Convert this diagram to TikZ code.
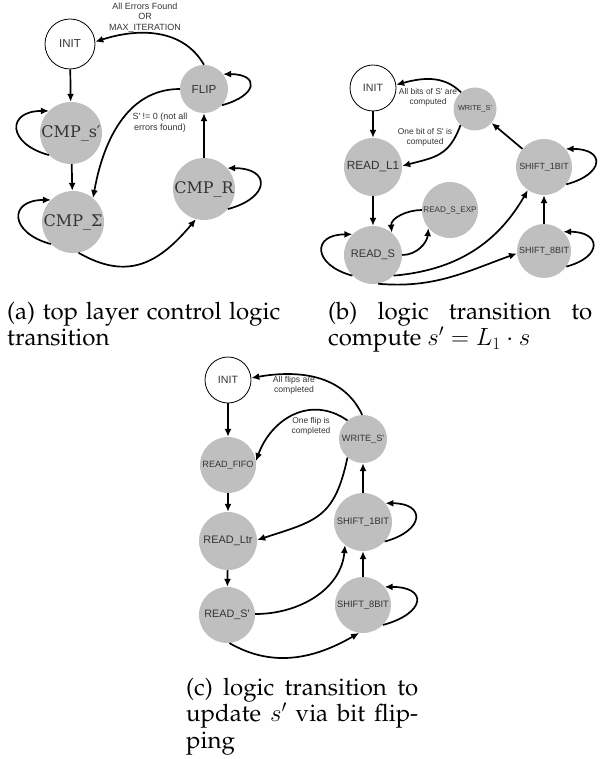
\documentclass[tikz,border=0pt]{standalone}
\usepackage[no-math]{fontspec}
\newfontfamily\labfont{Liberation Sans}
\newfontfamily\cmpfont{DejaVu Serif}
\usetikzlibrary{arrows.meta}

\definecolor{stfill}{RGB}{191,191,191}
\definecolor{txt}{RGB}{51,51,51}

\newcommand\setfs[2]{\fontsize{#1}{#2}\selectfont}
\newcommand\sq{\textquotesingle}
\newcommand\capfont{\fontencoding{OT1}\fontfamily{ppl}\fontsize{24}{26.5}\selectfont}

\tikzset{
  st/.style={circle, fill=stfill, draw=none, inner sep=0pt, text=txt},
  ist/.style={circle, draw=black, line width=0.8pt, fill=white, inner sep=0pt, text=txt},
  edge/.style={-{Latex[length=8pt,width=7pt]}, line width=1.7pt},
  lbl/.style={align=center, inner sep=0pt, text=txt},
  capt/.style={anchor=base west, inner sep=0pt},
}

\begin{document}
\begin{tikzpicture}[x=1pt,y=1pt]
\useasboundingbox (0,0) rectangle (600,-759);

% ---------------- (a) top layer ----------------
\node[ist, minimum size=50pt, font=\labfont\setfs{11.5}{13}] (iA) at (70,-44) {INIT};
\node[st, minimum size=48pt, font=\labfont\setfs{11.7}{13}] (fl) at (204,-89) {FLIP};
\node[st, minimum size=62pt, font=\cmpfont\setfs{16}{19}] (cs) at (71,-133) {CMP\_s′};
\node[st, minimum size=62pt, font=\cmpfont\setfs{16}{19}] (cS) at (73,-222) {CMP\_Σ};
\node[st, minimum size=62pt, font=\cmpfont\setfs{16}{19}] (cR) at (204,-189) {CMP\_R};

\draw[edge] (iA) -- (cs);
\draw[edge] (cs) -- (cS);
\draw[edge] (cs.225) to[out=165,in=180,distance=43pt] (cs.135);
\draw[edge] (cS.225) to[out=165,in=180,distance=43pt] (cS.135);
\draw[edge] (cR.320) to[out=15,in=0,distance=44pt] (cR.42);
\draw[edge] (fl.318) to[out=15,in=0,distance=37pt] (fl.38);
\draw[edge] (cS.280) to[out=330,in=230,looseness=1.2] (cR.255);
\draw[edge] (cR) -- (fl);
\draw[edge] (fl.90) to[out=120,in=18] (iA.5);
\draw[edge] (fl.180) to[out=180,in=80] (cS.50);

\node[lbl, font=\labfont\setfs{9}{10.5}] (la1) at (145,-17.5) {All Errors Found\\OR\\MAX\_ITERATION};
\node[lbl, font=\labfont\setfs{9}{11}] (la2) at (160,-122.5) {S\sq{} != 0 (not all\\errors found)};

% ---------------- (b) computing s' ----------------
\node[ist, minimum size=46pt, font=\labfont\setfs{10.6}{12}] (ib) at (373,-88) {INIT};
\node[st, minimum size=43pt, font=\labfont\setfs{7.3}{9}] (wb) at (475,-109) {WRITE\_S\sq};
\node[st, minimum size=58pt, font=\labfont\setfs{11.8}{13}] (l1) at (373,-167) {READ\_L1};
\node[st, minimum size=56pt, font=\labfont\setfs{8.1}{9}] (sx) at (450,-210) {READ\_S\_EXP};
\node[st, minimum size=58pt, font=\labfont\setfs{11}{13}] (rs) at (373,-255) {READ\_S};
\node[st, minimum size=56pt, font=\labfont\setfs{8.9}{10}] (s1b) at (544,-167) {SHIFT\_1BIT};
\node[st, minimum size=54pt, font=\labfont\setfs{9}{10}] (s8b) at (544,-251) {SHIFT\_8BIT};

\draw[edge] (ib) -- (l1);
\draw[edge] (l1) -- (rs);
\draw[edge] (wb.130) to[out=135,in=15] (ib.8);
\draw[edge] (wb.228) to[out=250,in=15,looseness=1.2] (l1.2);
\draw[edge] (sx.180) to[out=180,in=95] (rs.50);
\draw[edge] (rs.0) to[out=0,in=265] (sx.220);
\draw[edge] (rs.225) to[out=165,in=180,distance=41pt] (rs.135);
\draw[edge] (rs.315) to[out=5,in=240] (s1b.235);
\draw[edge] (rs.280) to[out=355,in=200] (s8b.185);
\draw[edge] (s8b) -- (s1b);
\draw[edge] (s1b) -- (wb);
\draw[edge] (s1b.322) to[out=15,in=0,distance=40pt] (s1b.40);
\draw[edge] (s8b.325) to[out=15,in=0,distance=38pt] (s8b.45);

\node[lbl, font=\labfont\setfs{8.4}{10}] (lb1) at (428,-97) {All bits of S\sq{} are\\computed};
\node[lbl, font=\labfont\setfs{8.4}{10}] (lb2) at (425,-137) {One bit of S\sq{} is\\computed};

% ---------------- (c) bit flipping ----------------
\node[ist, minimum size=46pt, font=\labfont\setfs{10.6}{12}] (ic) at (228,-380) {INIT};
\node[st, minimum size=56pt, font=\labfont\setfs{9.1}{10}] (rf) at (228,-465) {READ\_FIFO};
\node[st, minimum size=58pt, font=\labfont\setfs{10.9}{12}] (rl) at (228,-541) {READ\_Ltr};
\node[st, minimum size=56pt, font=\labfont\setfs{10.8}{12}] (rsp) at (227,-615) {READ\_S\sq};
\node[st, minimum size=48pt, font=\labfont\setfs{9.1}{10}] (wc) at (363,-439) {WRITE\_S\sq};
\node[st, minimum size=58pt, font=\labfont\setfs{9.4}{10}] (s1c) at (363,-522) {SHIFT\_1BIT};
\node[st, minimum size=56pt, font=\labfont\setfs{9.3}{10}] (s8c) at (363,-605) {SHIFT\_8BIT};

\draw[edge] (ic) -- (rf);
\draw[edge] (rf) -- (rl);
\draw[edge] (rl) -- (rsp);
\draw[edge] (wc.92) to[out=115,in=10] (ic.5);
\draw[edge] (wc.130) to[out=145,in=70,looseness=1.15] (rf.8);
\draw[edge] (wc.230) to[out=258,in=18,looseness=1.3] (rl.2);
\draw[edge] (rsp.2) to[out=0,in=265] (s1c.232);
\draw[edge] (rsp.275) to[out=330,in=210] (s8c.262);
\draw[edge] (s8c) -- (s1c);
\draw[edge] (s1c) -- (wc);
\draw[edge] (s1c.318) to[out=15,in=0,distance=41pt] (s1c.40);
\draw[edge] (s8c.315) to[out=15,in=0,distance=44pt] (s8c.40);

\node[lbl, font=\labfont\setfs{8.6}{10}] (lc1) at (294,-385) {All flips are\\completed};
\node[lbl, font=\labfont\setfs{8.4}{9.5}] (lc2) at (311,-426.5) {One flip is\\completed};

% ---------------- captions ----------------
\node[capt] (capa) at (7,-319) {\parbox[t]{273pt}{\capfont
  \makebox[273pt][s]{(a) top layer control logic}\\
  transition}};
\node[capt] (capb) at (328,-319) {\parbox[t]{264pt}{\capfont
  \makebox[264pt][s]{(b) logic transition to}\\
  compute \(s'=L_1\cdot s\)}};
\node[capt] (capc) at (186,-695) {\parbox[t]{232pt}{\capfont
  \makebox[232pt][s]{(c) logic transition to}\\
  \makebox[232pt][s]{update \(s'\) via bit flip-}\\
  ping}};
\end{tikzpicture}
\end{document}
